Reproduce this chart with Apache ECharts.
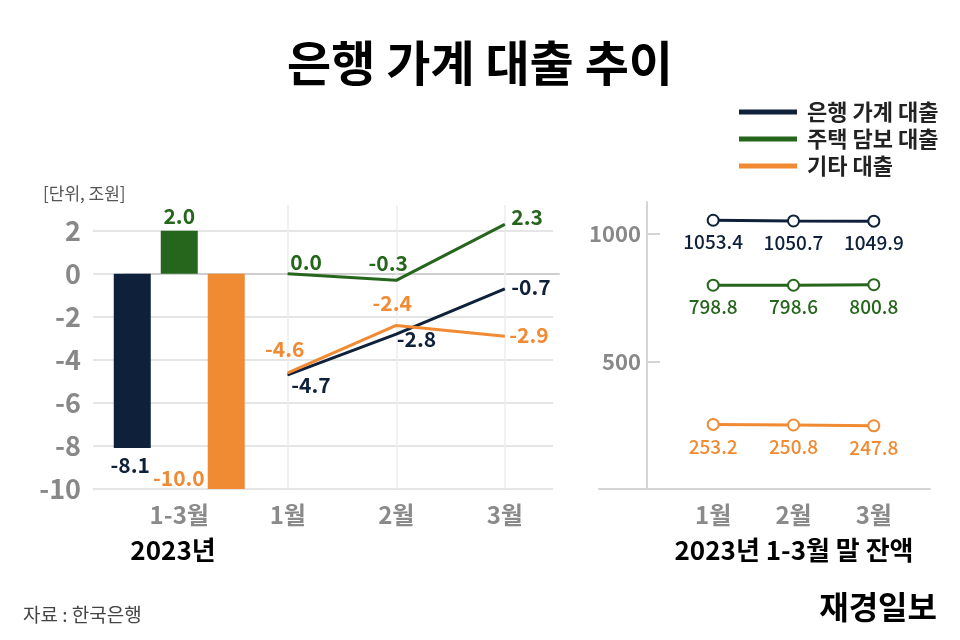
<!DOCTYPE html>
<html><head><meta charset="utf-8">
<script src="https://cdn.jsdelivr.net/npm/echarts@6/dist/echarts.min.js"></script>
<style>html,body{margin:0;padding:0;background:#fff}#c{width:960px;height:640px}</style>
</head><body><div id="c"></div>
<script>
const seriesNames = ['은행 가계 대출', '주택 담보 대출', '기타 대출'];
const colors = ['#0f213a', '#26661c', '#f08a33'];
const changeCats = ['1-3월', '1월', '2월', '3월'];
const quarterChange = [-8.1, 2.0, -10.0];
const monthlyBank = [-4.7, -2.8, -0.7];
const monthlyMortgage = [0.0, -0.3, 2.3];
const monthlyOther = [-4.6, -2.4, -2.9];
const balanceCats = ['1월', '2월', '3월'];
const balanceBank = [1053.4, 1050.7, 1049.9];
const balanceMortgage = [798.8, 798.6, 800.8];
const balanceOther = [253.2, 250.8, 247.8];
const balanceTicks = [500, 1000];

const FONT = '"Noto Sans CJK KR", "Noto Sans", sans-serif';
const chart = echarts.init(document.getElementById('c'));

const monthly = [monthlyBank, monthlyMortgage, monthlyOther];
const balances = [balanceBank, balanceMortgage, balanceOther];

// label placement per point (style only)
const lineLabelStyles = [
  [{position:'right', distance:3, offset:[0,10]}, {position:'right', distance:0, offset:[0,5]}, {position:'right', distance:6, offset:[0,-2]}],
  [{position:'right', distance:2, offset:[0,-12]}, {position:'top', distance:6, offset:[-8,0]}, {position:'right', distance:6, offset:[0,-7]}],
  [{position:'top', distance:13, offset:[-3,0]}, {position:'top', distance:11, offset:[-4,0]}, {position:'right', distance:4, offset:[0,-1]}]
];
const barLabelStyles = [
  {position:'bottom', distance:6, offset:[-2,0]},
  {position:'top', distance:4},
  {position:'left', distance:3, offset:[0,97]}
];

const series = [];
// bars (1-3월)
for (let i = 0; i < 3; i++) {
  series.push({
    name: seriesNames[i], type: 'bar', xAxisIndex: 1, yAxisIndex: 1,
    barWidth: 37, barGap: '27%', clip: false,
    itemStyle: {color: colors[i]},
    data: [quarterChange[i], '-', '-', '-'],
    label: Object.assign({show: true, color: colors[i], fontSize: 21, fontWeight: 600, fontFamily: FONT,
      formatter: p => p.value.toFixed(1)}, barLabelStyles[i])
  });
}
// monthly lines
for (let i = 0; i < 3; i++) {
  const s = {
    name: seriesNames[i], type: 'line', xAxisIndex: 1, yAxisIndex: 1,
    symbol: 'circle', symbolSize: 1, showSymbol: true, clip: false,
    lineStyle: {color: colors[i], width: 3}, itemStyle: {color: colors[i]},
    z: 3,
    data: ['-'].concat(monthly[i]).map((v, j) => {
      if (j === 0) return '-';
      return {value: v, label: lineLabelStyles[i][j - 1]};
    }),
    label: {show: true, color: colors[i], fontSize: 21, fontWeight: 600, fontFamily: FONT,
      formatter: p => Number(p.value).toFixed(1)}
  };
  if (i === 0) {
    s.markLine = {silent: true, symbol: 'none', label: {show: false},
      lineStyle: {color: '#ececec', width: 1.5, type: 'solid'},
      data: [{xAxis: '1월'}, {xAxis: '2월'}, {xAxis: '3월'}], z: 1};
  }
  series.push(s);
}
// balances
for (let i = 0; i < 3; i++) {
  series.push({
    name: seriesNames[i], type: 'line', xAxisIndex: 3, yAxisIndex: 3,
    symbol: 'emptyCircle', symbolSize: 11,
    lineStyle: {color: colors[i], width: 3},
    itemStyle: {color: colors[i], borderWidth: 2.5},
    data: balances[i],
    label: {show: true, position: 'bottom', distance: 6, color: colors[i], fontSize: 19, fontWeight: 500, fontFamily: FONT,
      formatter: p => p.value.toFixed(1)}
  });
}
// dummy series for helper grids
series.push({type: 'line', xAxisIndex: 0, yAxisIndex: 0, data: [], silent: true});
series.push({type: 'line', xAxisIndex: 2, yAxisIndex: 2, data: [], silent: true});

const axisLabelGray = {color: '#8a8a8a', fontSize: 24, fontWeight: 600, fontFamily: FONT};

chart.setOption({
  animation: false,
  textStyle: {fontFamily: FONT},
  title: [
    {text: '은행 가계 대출 추이', left: 'center', top: 34, textStyle: {fontSize: 48, fontWeight: 'bold', color: '#000', fontFamily: FONT}},
    {text: '[단위, 조원]', left: 38, top: 180, textStyle: {fontSize: 17, fontWeight: 'normal', color: '#555', fontFamily: FONT}},
    {text: '2023년', left: 168, textAlign: 'center', top: 532, textStyle: {fontSize: 26, fontWeight: 'bold', color: '#000', fontFamily: FONT}},
    {text: '2023년 1-3월 말 잔액', left: 789, textAlign: 'center', top: 532, textStyle: {fontSize: 26, fontWeight: 'bold', color: '#000', fontFamily: FONT}},
    {text: '자료 : 한국은행', left: 18, top: 600, textStyle: {fontSize: 19, fontWeight: 'normal', color: '#444', fontFamily: FONT}},
    {text: '재경일보', right: 18, top: 586, textStyle: {fontSize: 32, fontWeight: 'bold', color: '#000', fontFamily: FONT}}
  ],
  legend: {
    orient: 'vertical', left: 734, top: 96, itemWidth: 58, itemHeight: 5, itemGap: 5,
    icon: 'rect', data: seriesNames,
    textStyle: {fontSize: 22, fontWeight: 'bold', color: '#222', fontFamily: FONT, padding: [0, 0, 0, 5]}
  },
  grid: [
    {left: 93, right: 407, top: 231, bottom: 151},
    {left: 125, right: 401, top: 205, bottom: 151},
    {left: 599, right: 30, top: 202, bottom: 151},
    {left: 673, right: 46, top: 202, bottom: 151}
  ],
  xAxis: [
    {gridIndex: 0, type: 'value', show: false, min: 0, max: 1},
    {gridIndex: 1, type: 'category', data: changeCats,
      axisLine: {lineStyle: {color: '#cfcfcf', width: 2}}, axisTick: {show: false},
      axisLabel: Object.assign({margin: 14}, axisLabelGray)},
    {gridIndex: 2, type: 'value', min: 0, max: 1, axisLine: {show: true, onZero: false, lineStyle: {color: '#d5d5d5', width: 2}},
      axisTick: {show: false}, axisLabel: {show: false}, splitLine: {show: false}},
    {gridIndex: 3, type: 'category', data: balanceCats,
      axisLine: {show: false}, axisTick: {show: false},
      axisLabel: Object.assign({margin: 14}, axisLabelGray)}
  ],
  yAxis: [
    {gridIndex: 0, type: 'value', min: -10, max: 2, interval: 2,
      axisLine: {show: false}, axisTick: {show: false},
      axisLabel: {color: '#888', fontSize: 27, fontWeight: 'bold', fontFamily: FONT, margin: 12},
      splitLine: {lineStyle: {color: '#dcdcdc', width: 1.5}}},
    {gridIndex: 1, type: 'value', min: -10, max: 3.2, show: false},
    {gridIndex: 2, type: 'value', min: 0, max: 1, show: false},
    {gridIndex: 3, type: 'value', min: 0, max: 1125, interval: 500, offset: 26,
      axisLine: {show: true, lineStyle: {color: '#d5d5d5', width: 2}},
      axisTick: {show: true, inside: true, length: 13, customValues: balanceTicks, lineStyle: {color: '#d5d5d5', width: 2}},
      axisLabel: {customValues: balanceTicks, formatter: v => String(v), color: '#888', fontSize: 22, fontWeight: 600, fontFamily: FONT, margin: 6},
      splitLine: {show: false}}
  ],
  series: series
});
</script></body></html>
